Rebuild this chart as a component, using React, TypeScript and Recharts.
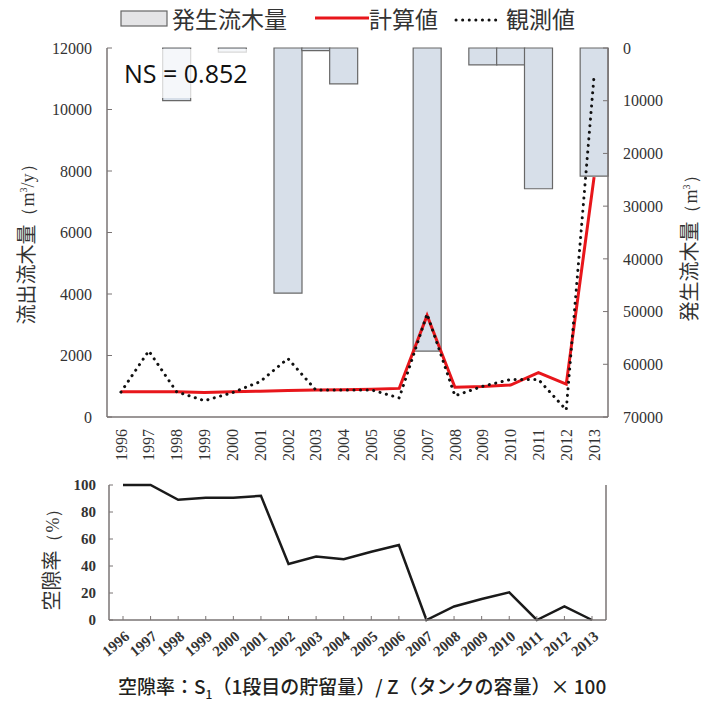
import { ComposedChart, LineChart, Bar, Line, XAxis, YAxis } from 'recharts';

const YEARS = [
  '1996', '1997', '1998', '1999', '2000', '2001', '2002', '2003', '2004',
  '2005', '2006', '2007', '2008', '2009', '2010', '2011', '2012', '2013',
];

// 発生流木量 (m3), right axis, drawn downward from the top
const OCCUR = [null, null, 10000, null, 800, null, 46500, 500, 6800, null, null, 57500, null, 3200, 3200, 26700, null, 24300];
// 計算値 (m3/y)
const CALC = [820, 820, 820, 800, 820, 840, 860, 880, 890, 900, 930, 3300, 970, 990, 1040, 1440, 1070, 7800];
// 観測値 (m3/y)
const OBS = [810, 2150, 820, 530, 790, 1150, 1900, 880, 880, 880, 620, 3350, 690, 1000, 1220, 1220, 230, 11100];
// 空隙率 (%)
const VOID_RATIO = [100, 100, 89, 90.5, 90.5, 92, 41.5, 47, 45, 50.5, 55.5, 0, 10, 15.5, 20.5, 0, 10, 0];

const LEFT_TICKS = [0, 2000, 4000, 6000, 8000, 10000, 12000];
const RIGHT_TICKS = [0, 10000, 20000, 30000, 40000, 50000, 60000, 70000];
const RATIO_TICKS = [0, 20, 40, 60, 80, 100];

const topData = YEARS.map((year, i) => ({ year, occur: OCCUR[i], calc: CALC[i], obs: OBS[i] }));
const bottomData = YEARS.map((year, i) => ({ year, ratio: VOID_RATIO[i] }));

const SERIF = '"Liberation Serif", "Times New Roman", serif';
const SANS = '"Noto Sans CJK JP", "Noto Sans", sans-serif';
const AXIS = '#7a7474';
const TEXT = '#333';

function VerticalYearTick({ x, y, payload }: any) {
  const ty = y + 12;
  return (
    <text
      x={x}
      y={ty}
      transform={`rotate(-90, ${x}, ${ty})`}
      textAnchor="end"
      dy="0.35em"
      fontFamily={SERIF}
      fontSize={16}
      fill={TEXT}
    >
      {payload.value}
    </text>
  );
}

function SlantYearTick({ x, y, payload }: any) {
  const tx = x + 4;
  const ty = y + 14;
  return (
    <text
      x={tx}
      y={ty}
      transform={`rotate(-40, ${tx}, ${ty})`}
      textAnchor="end"
      dy="0.35em"
      fontFamily={SERIF}
      fontWeight="bold"
      fontSize={15}
      fill={TEXT}
    >
      {payload.value}
    </text>
  );
}

const vlabel = (left: number, top: number): React.CSSProperties => ({
  position: 'absolute',
  left,
  top,
  transform: 'translate(-50%, -50%) rotate(-90deg)',
  whiteSpace: 'nowrap',
  fontFamily: SANS,
  fontSize: 20,
  color: TEXT,
});

export default function App() {
  return (
    <div style={{ position: 'absolute', left: 0, top: 0, width: 701, height: 706, background: '#fff', overflow: 'hidden' }}>
      {/* legend */}
      <div style={{ position: 'absolute', left: 120, top: 2, height: 32, display: 'flex', alignItems: 'center', fontFamily: SANS, fontSize: 23, color: TEXT }}>
        <svg width={50} height={20}>
          <rect x={1} y={3} width={46} height={15} fill="#e4e4e6" stroke="#666" strokeWidth={1.2} />
        </svg>
        <span style={{ marginLeft: 2 }}>発生流木量</span>
        <svg width={54} height={20} style={{ marginLeft: 28 }}>
          <line x1={0} y1={10} x2={54} y2={10} stroke="#e8161b" strokeWidth={3} />
        </svg>
        <span>計算値</span>
        <svg width={52} height={20} style={{ marginLeft: 16 }}>
          <line x1={2} y1={12} x2={48} y2={12} stroke="#111" strokeWidth={3} strokeDasharray="0.1 6.5" strokeLinecap="round" />
        </svg>
        <span>観測値</span>
      </div>

      <div style={vlabel(25, 240)}>
        流出流木量
        <span style={{ fontFamily: SERIF, fontSize: 18 }}>（m<sup style={{ fontSize: 10 }}>3</sup>/y）</span>
      </div>
      <div style={vlabel(688, 244)}>
        発生流木量
        <span style={{ fontFamily: SERIF, fontSize: 18 }}>（m<sup style={{ fontSize: 10 }}>3</sup>）</span>
      </div>

      <div style={{ position: 'absolute', left: 0, top: 0 }}>
        <ComposedChart width={701} height={480} data={topData} margin={{ top: 48, right: 0, bottom: 0, left: 0 }} barCategoryGap={0} barGap={0}>
          <XAxis dataKey="year" height={63} interval={0} tick={<VerticalYearTick />} tickLine={false} tickSize={0} tickMargin={0} axisLine={{ stroke: AXIS, strokeWidth: 1.5 }} />
          <XAxis xAxisId="top" dataKey="year" orientation="top" height={0} tick={false} tickLine={false} axisLine={{ stroke: AXIS, strokeWidth: 1.5 }} />
          <YAxis
            yAxisId="left"
            width={107}
            domain={[0, 12000]}
            ticks={LEFT_TICKS}
            tickSize={-5}
            tickMargin={20}
            tick={{ fontFamily: SERIF, fontSize: 16, fill: TEXT }}
            tickLine={{ stroke: AXIS }}
            axisLine={{ stroke: AXIS, strokeWidth: 1.5 }}
          />
          <YAxis
            yAxisId="right"
            orientation="right"
            width={93}
            reversed
            domain={[0, 70000]}
            ticks={RIGHT_TICKS}
            tickSize={-5}
            tickMargin={20}
            tick={{ fontFamily: SERIF, fontSize: 16, fill: TEXT, textAnchor: 'start' }}
            tickLine={{ stroke: AXIS }}
            axisLine={{ stroke: AXIS, strokeWidth: 1.5 }}
          />
          <Bar yAxisId="right" dataKey="occur" fill="#d7dfe9" stroke="#686868" strokeWidth={1.2} isAnimationActive={false} />
          <Line yAxisId="left" type="linear" dataKey="calc" stroke="#e8161b" strokeWidth={3} dot={false} isAnimationActive={false} />
          <Line yAxisId="left" type="linear" dataKey="obs" stroke="#111" strokeWidth={3} strokeDasharray="0.1 6.5" strokeLinecap="round" dot={false} isAnimationActive={false} />
        </ComposedChart>
      </div>

      <div style={{ position: 'absolute', left: 108, top: 49, width: 148, height: 49, background: 'rgba(255,255,255,0.75)', fontFamily: '"Open Sans", "Noto Sans", sans-serif', fontSize: 25, color: '#111', lineHeight: '49px', paddingLeft: 16, boxSizing: 'border-box' }}>
        NS = 0.852
      </div>

      <div style={vlabel(50, 555)}>
        空隙率
        <span style={{ fontFamily: SERIF, fontSize: 18 }}>（%）</span>
      </div>

      <div style={{ position: 'absolute', left: 0, top: 470 }}>
        <LineChart width={701} height={190} data={bottomData} margin={{ top: 15, right: 0, bottom: 0, left: 0 }}>
          <XAxis dataKey="year" height={40} interval={0} padding={{ left: 14, right: 14 }} tick={<SlantYearTick />} tickSize={-4} tickMargin={4} tickLine={{ stroke: AXIS }} axisLine={{ stroke: AXIS, strokeWidth: 1.5 }} />
          <XAxis xAxisId="top" dataKey="year" orientation="top" height={0} tick={false} tickLine={false} axisLine={{ stroke: AXIS, strokeWidth: 1.5 }} />
          <YAxis
            width={109}
            domain={[0, 100]}
            ticks={RATIO_TICKS}
            tickSize={-4}
            tickMargin={17}
            tick={{ fontFamily: SERIF, fontWeight: 'bold', fontSize: 15, fill: TEXT }}
            tickLine={{ stroke: AXIS }}
            axisLine={{ stroke: AXIS, strokeWidth: 1.5 }}
          />
          <YAxis yAxisId="border" orientation="right" width={95} tick={false} tickLine={false} axisLine={{ stroke: AXIS, strokeWidth: 1.5 }} />
          <Line type="linear" dataKey="ratio" stroke="#1a1a1a" strokeWidth={2.5} dot={false} isAnimationActive={false} />
        </LineChart>
      </div>

      <div style={{ position: 'absolute', left: 118, top: 672, whiteSpace: 'nowrap', fontFamily: SANS, fontSize: 19, fontWeight: 500, color: '#231f20' }}>
        空隙率：S<sub style={{ fontSize: 12 }}>1</sub>（1段目の貯留量）/ Z（タンクの容量）× 100
      </div>
    </div>
  );
}
